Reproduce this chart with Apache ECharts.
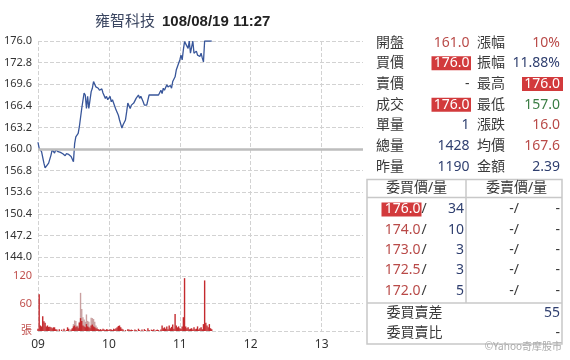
<!DOCTYPE html>
<html><head><meta charset="utf-8">
<script src="https://cdn.jsdelivr.net/npm/echarts@6/dist/echarts.min.js"></script>
<style>html,body{margin:0;padding:0;background:#fff}#c{width:570px;height:360px}</style>
</head><body><div id="c"></div>
<script>
// ---------- data ----------
const stockName = '雍智科技';
const stamp = '108/08/19 11:27';
const refPrice = 160.0;
const timeLabels = ['09', '10', '11', '12', '13'];

// minutes after 09:00 and price at that minute
const minutes = [0,1,3,5,6,9,11,12,14,15,17,19,21,23,24,26,28,30,31,32,34,35,37,39,40,41,42,43,45,46,47,49,51,52,54,55,57,58,59,61,62,63,65,66,68,69,71,72,74,75,76,78,79,81,82,83,85,86,87,89,90,92,94,96,99,102,104,105,106,107,109,110,112,113,114,116,117,119,120,121,122,123,124,125,127,128,129,131,132,134,135,137,138,139,140,141,145,147];
const prices = [161.0,160.1,159.6,157.9,157.2,157.9,159.1,159.9,159.4,159.9,159.6,159.5,159.3,159.0,159.3,159.2,158.9,158.1,160.8,161.8,162.3,163.3,166.0,168.3,168.0,166.0,167.8,166.0,168.5,169.0,170.0,169.2,169.0,168.7,168.9,168.3,167.5,167.8,167.3,167.8,167.0,167.3,166.3,165.8,165.0,164.3,163.1,163.6,164.3,165.5,166.8,166.0,166.5,166.8,167.0,167.5,168.0,167.5,167.8,167.0,166.5,166.5,168.0,168.0,168.0,168.0,168.7,168.2,169.0,168.7,169.5,169.2,169.4,169.0,170.0,170.7,171.7,172.7,173.2,173.9,173.2,174.7,175.9,176.0,174.9,176.0,174.2,176.0,174.2,174.5,173.9,173.7,174.2,173.5,172.9,176.0,176.0,176.0];

// per-minute volume (index = minute after 09:00)
const volRed = [
  5,80,12,10,32,21,18,10,12,9,
  9,8,6,8,8,4,3,0,4,0,
  3,0,5,0,2,8,5,0,3,6,
  10,12,8,10,6,18,28,22,12,10,
  8,15,10,8,6,12,14,10,8,6,
  5,4,3,4,2,5,3,2,4,3,
  2,4,3,2,5,4,6,8,11,12,
  8,5,3,0,2,0,4,3,2,3,
  2,0,3,2,0,5,2,0,3,0,
  4,2,0,6,2,0,3,2,4,0,
  2,3,2,0,3,12,6,8,5,10,
  4,12,6,9,14,5,37,12,8,10,
  6,5,10,30,115,10,6,8,4,5,
  6,3,8,4,5,10,3,6,8,4,
  15,110,18,12,8,15,6,4
];
const pinkMinutes = [30,31,32,33,34,35,36,37,38,39,40,41,42,43,44,45,46,47,48,49,50];
const pinkValues  = [15,23,22,12,10,20,83,48,30,25,20,36,22,20,10,29,28,26,20,12,8];

// quote panel
const quoteLabelsA = ['開盤','買價','賣價','成交','單量','總量','昨量'];
const quoteValuesA = ['161.0','176.0','-','176.0','1','1428','1190'];
const quoteLabelsB = ['漲幅','振幅','最高','最低','漲跌','均價','金額'];
const quoteValuesB = ['10%','11.88%','176.0','157.0','16.0','167.6','2.39'];
// order book
const bookHeaders = ['委買價/量','委賣價/量'];
const bidPrices = ['176.0','174.0','173.0','172.5','172.0'];
const bidVols = ['34','10','3','3','5'];
const askPrices = ['-','-','-','-','-'];
const askVols = ['-','-','-','-','-'];
const bookFootLabels = ['委買賣差','委買賣比'];
const bookFootValues = ['55','-'];
const credit = '©Yahoo奇摩股市';

// ---------- rendering ----------
const RED = '#b94a48', BLUE = '#2f3f6f', GREEN = '#3a7d44', DARK = '#3a3a3a', BOX = '#d23a3c';
const FONT = "'Noto Sans','Noto Sans CJK TC',sans-serif";
const toneA = [RED, 'box', DARK, 'box', BLUE, BLUE, BLUE];
const toneB = [RED, BLUE, 'box', GREEN, RED, RED, BLUE];

const g = [];
function txt(x, y, s, fill, align, size, weight, family) {
  g.push({type:'text', z:10, style:{x, y, text:s, fill, align: align||'left', verticalAlign:'middle',
    font: (weight||'normal') + ' ' + (size||14) + 'px ' + (family||FONT)}});
}
function rect(x, y, w, h, fill, stroke, lw) {
  g.push({type:'rect', z:5, shape:{x, y, width:w, height:h},
    style: stroke ? {fill:'none', stroke, lineWidth: lw||1} : {fill}});
}
function line(x1, y1, x2, y2, stroke, lw) {
  g.push({type:'line', z:5, shape:{x1, y1, x2, y2}, style:{stroke, lineWidth: lw||1}});
}
// title
txt(95, 22, stockName, '#3a4560', 'left', 15);
txt(162, 22, stamp, '#222', 'left', 15, 'bold', "'Liberation Sans',Arial,sans-serif");
// quote panel
const rowY0 = 42.7, rowStep = 20.67;
quoteLabelsA.forEach((s, i) => {
  const y = rowY0 + i * rowStep;
  txt(376, y, s, DARK, 'left');
  if (toneA[i] === 'box') { rect(431.5, y - 7, 39.5, 14, BOX); txt(469.5, y, quoteValuesA[i], '#fff', 'right'); }
  else txt(469.5, y, quoteValuesA[i], toneA[i], 'right');
  txt(477, y, quoteLabelsB[i], DARK, 'left');
  if (toneB[i] === 'box') { rect(522, y - 7, 41, 14, BOX); txt(560, y, quoteValuesB[i], '#fff', 'right'); }
  else txt(560, y, quoteValuesB[i], toneB[i], 'right');
});
// order book
rect(367, 179.5, 195, 164.5, null, '#c8c8c8', 1.5);
line(466, 179.5, 466, 303, '#c8c8c8', 1.5);
line(367, 197.5, 562, 197.5, '#c8c8c8', 1.5);
line(367, 303, 562, 303, '#c8c8c8', 1.5);
txt(416.5, 188, bookHeaders[0], DARK, 'center');
txt(516.5, 188, bookHeaders[1], DARK, 'center');
bidPrices.forEach((p, i) => {
  const y = 209.5 + i * 20.3;
  if (i === 0) { rect(381.5, y - 7, 40, 14, BOX); txt(420.5, y, p, '#fff', 'right'); }
  else txt(420.5, y, p, RED, 'right');
  txt(421.5, y, '/', DARK, 'left');
  txt(464, y, bidVols[i], BLUE, 'right');
  txt(519, y, askPrices[i] + '/', DARK, 'right');
  txt(560, y, askVols[i], DARK, 'right');
});
bookFootLabels.forEach((s, i) => {
  const y = 313.5 + i * 20;
  txt(386.5, y, s, DARK, 'left');
  txt(560, y, bookFootValues[i], i === 0 ? BLUE : DARK, 'right');
});
txt(562, 347, credit, '#aaa', 'right', 10);

const dash = {type:'dashed', color:'#d2d2d2', width:1, dashOffset:0};
const chart = echarts.init(document.getElementById('c'), null, {renderer:'canvas'});
chart.setOption({
  animation: false,
  backgroundColor: '#fff',
  grid: [
    {left: 38, right: 207, top: 41, height: 216},
    {left: 38, right: 207, top: 257, height: 74}
  ],
  xAxis: [
    {type:'value', gridIndex:0, min:0, max:275, interval:60,
     axisLine:{show:false}, axisTick:{show:false}, axisLabel:{show:false},
     splitLine:{show:true, showMaxLine:false, lineStyle:dash}},
    {type:'value', gridIndex:1, min:0, max:275, interval:60,
     axisLine:{show:false}, axisTick:{show:false},
     axisLabel:{show:true, margin:8, fontSize:12, color:'#333', fontFamily:FONT,
       formatter: v => (v % 60 === 0 && v / 60 < timeLabels.length) ? timeLabels[v / 60] : ''},
     splitLine:{show:true, showMaxLine:false, lineStyle:dash}}
  ],
  yAxis: [
    {type:'value', gridIndex:0, min:144, max:176, interval:3.2,
     axisLine:{show:false}, axisTick:{show:false},
     axisLabel:{fontSize:11, color:'#333', margin:6, fontFamily:FONT, formatter: v => v.toFixed(1)},
     splitLine:{show:true, lineStyle:dash}},
    {type:'value', gridIndex:1, min:0, max:161, interval:60,
     axisLine:{show:false}, axisTick:{show:false},
     axisLabel:{fontSize:11, color:'#c0504d', margin:6, fontFamily:FONT,
       formatter: v => v === 0 ? '張' : (v === 60 || v === 120 ? String(v) : '')},
     splitLine:{show:true, showMaxLine:false, lineStyle:dash}}
  ],
  series: [
    {type:'line', xAxisIndex:0, yAxisIndex:0, showSymbol:false, symbol:'none',
     data: minutes.map((m, i) => [m, prices[i]]),
     lineStyle:{color:'#38569a', width:1.3}, z:3,
     markLine:{silent:true, symbol:'none', label:{show:false},
       lineStyle:{color:'#bdbdbd', width:2.5, type:'solid'}, data:[{yAxis: refPrice}]}},
    {type:'bar', xAxisIndex:1, yAxisIndex:1, barWidth:1.4, barGap:'-100%',
     data: pinkMinutes.map((m, i) => [m, pinkValues[i]]),
     itemStyle:{color:'#c9a0a0'}},
    {type:'bar', xAxisIndex:1, yAxisIndex:1, barWidth:1.4, barGap:'-100%',
     data: volRed.map((v, m) => [m, v]),
     itemStyle:{color:'#c42a2e'}}
  ],
  graphic: g
});
</script></body></html>
